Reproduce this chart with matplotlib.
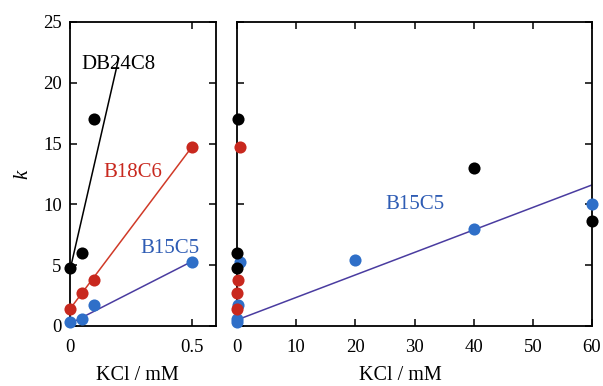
import matplotlib
matplotlib.use("Agg")
import matplotlib.pyplot as plt
import numpy as np

plt.rcParams['font.family'] = ['Liberation Serif', 'DejaVu Serif']
plt.rcParams['mathtext.fontset'] = 'custom'
plt.rcParams['mathtext.it'] = 'Liberation Serif:italic'

# Data: KCl concentration (mM) and rate constant k
x_db24c8 = [0, 0.05, 0.1, 40, 60]
k_db24c8 = [4.8, 6.0, 17.0, 13.0, 8.6]
x_b18c6 = [0, 0.05, 0.1, 0.5]
k_b18c6 = [1.4, 2.7, 3.8, 14.7]
x_b15c5 = [0, 0.05, 0.1, 0.5, 20, 40, 60]
k_b15c5 = [0.3, 0.6, 1.7, 5.3, 5.4, 8.0, 10.0]

# Fitted lines (intercept, slope, x-range)
fit_db24c8_left = (4.6, 87.0, (0, 0.2))
fit_b18c6_left = (1.4, 26.6, (0, 0.5))
fit_b15c5_left = (0.2, 10.2, (0, 0.5))
fit_b15c5_right = (0.5, 0.185, (0, 60))

c_black = '#000000'
c_red_pt = '#c8281e'
c_red_line = '#d03a28'
c_blue_pt = '#2f6fc8'
c_blue_line = '#4a3ca0'
c_blue_txt = '#2e5cb4'

fig = plt.figure(figsize=(6.03, 3.86), dpi=100)
axL = fig.add_axes([70/603, 1-326/386, 146/603, 304/386])
axR = fig.add_axes([237/603, 1-326/386, 355/603, 304/386])

def fit_line(ax, fit, color):
    b, m, (x0, x1) = fit
    xs = np.array([x0, x1])
    ax.plot(xs, b + m*xs, color=color, lw=1.1, zorder=2)

ms = 76
# Left panel
fit_line(axL, fit_db24c8_left, c_black)
fit_line(axL, fit_b18c6_left, c_red_line)
fit_line(axL, fit_b15c5_left, c_blue_line)
axL.scatter(x_b15c5, k_b15c5, s=ms, color=c_blue_pt, zorder=3, clip_on=False, lw=0)
axL.scatter(x_b18c6, k_b18c6, s=ms, color=c_red_pt, zorder=3, clip_on=False, lw=0)
axL.scatter(x_db24c8, k_db24c8, s=ms, color=c_black, zorder=4, clip_on=False, lw=0)
axL.set_xlim(0, 0.6)
axL.set_ylim(0, 25)
axL.set_xticks([0, 0.5])
axL.set_xticklabels(['0', '0.5'])
axL.set_yticks([0, 5, 10, 15, 20, 25])
axL.text(0.045, 21.5, 'DB24C8', color=c_black, fontsize=15, va='center', ha='left')
axL.text(0.136, 12.6, 'B18C6', color=c_red_pt, fontsize=15, va='center', ha='left')
axL.text(0.29, 6.4, 'B15C5', color=c_blue_txt, fontsize=15, va='center', ha='left')
axL.set_ylabel('$k$', fontsize=15, rotation=90)
axL.yaxis.set_label_coords(-37/146, 0.5)
axL.set_xlabel('KCl / mM', fontsize=14.5)
axL.xaxis.set_label_coords(0.46, -40/304)

# Right panel
fit_line(axR, fit_b15c5_right, c_blue_line)
axR.scatter(x_b15c5, k_b15c5, s=ms, color=c_blue_pt, zorder=3, clip_on=False, lw=0)
axR.scatter(x_b18c6, k_b18c6, s=ms, color=c_red_pt, zorder=3, clip_on=False, lw=0)
axR.scatter(x_db24c8, k_db24c8, s=ms, color=c_black, zorder=4, clip_on=False, lw=0)
axR.set_xlim(0, 60)
axR.set_ylim(0, 25)
axR.set_xticks(range(0, 61, 10))
axR.set_yticks([0, 5, 10, 15, 20, 25])
axR.set_yticklabels([])
axR.text(25, 10.0, 'B15C5', color=c_blue_txt, fontsize=15, va='center', ha='left')
axR.set_xlabel('KCl / mM', fontsize=14.5)
axR.xaxis.set_label_coords((400-237)/355, -40/304)

for ax in (axL, axR):
    for sp in ax.spines.values():
        sp.set_linewidth(1.3)
    ax.tick_params(direction='in', length=5, width=1.1, top=True, right=True,
                   labelsize=13.5)
    ax.tick_params(axis='x', pad=9)
    ax.tick_params(axis='y', pad=6)

fig.savefig('out.png', dpi=100)
